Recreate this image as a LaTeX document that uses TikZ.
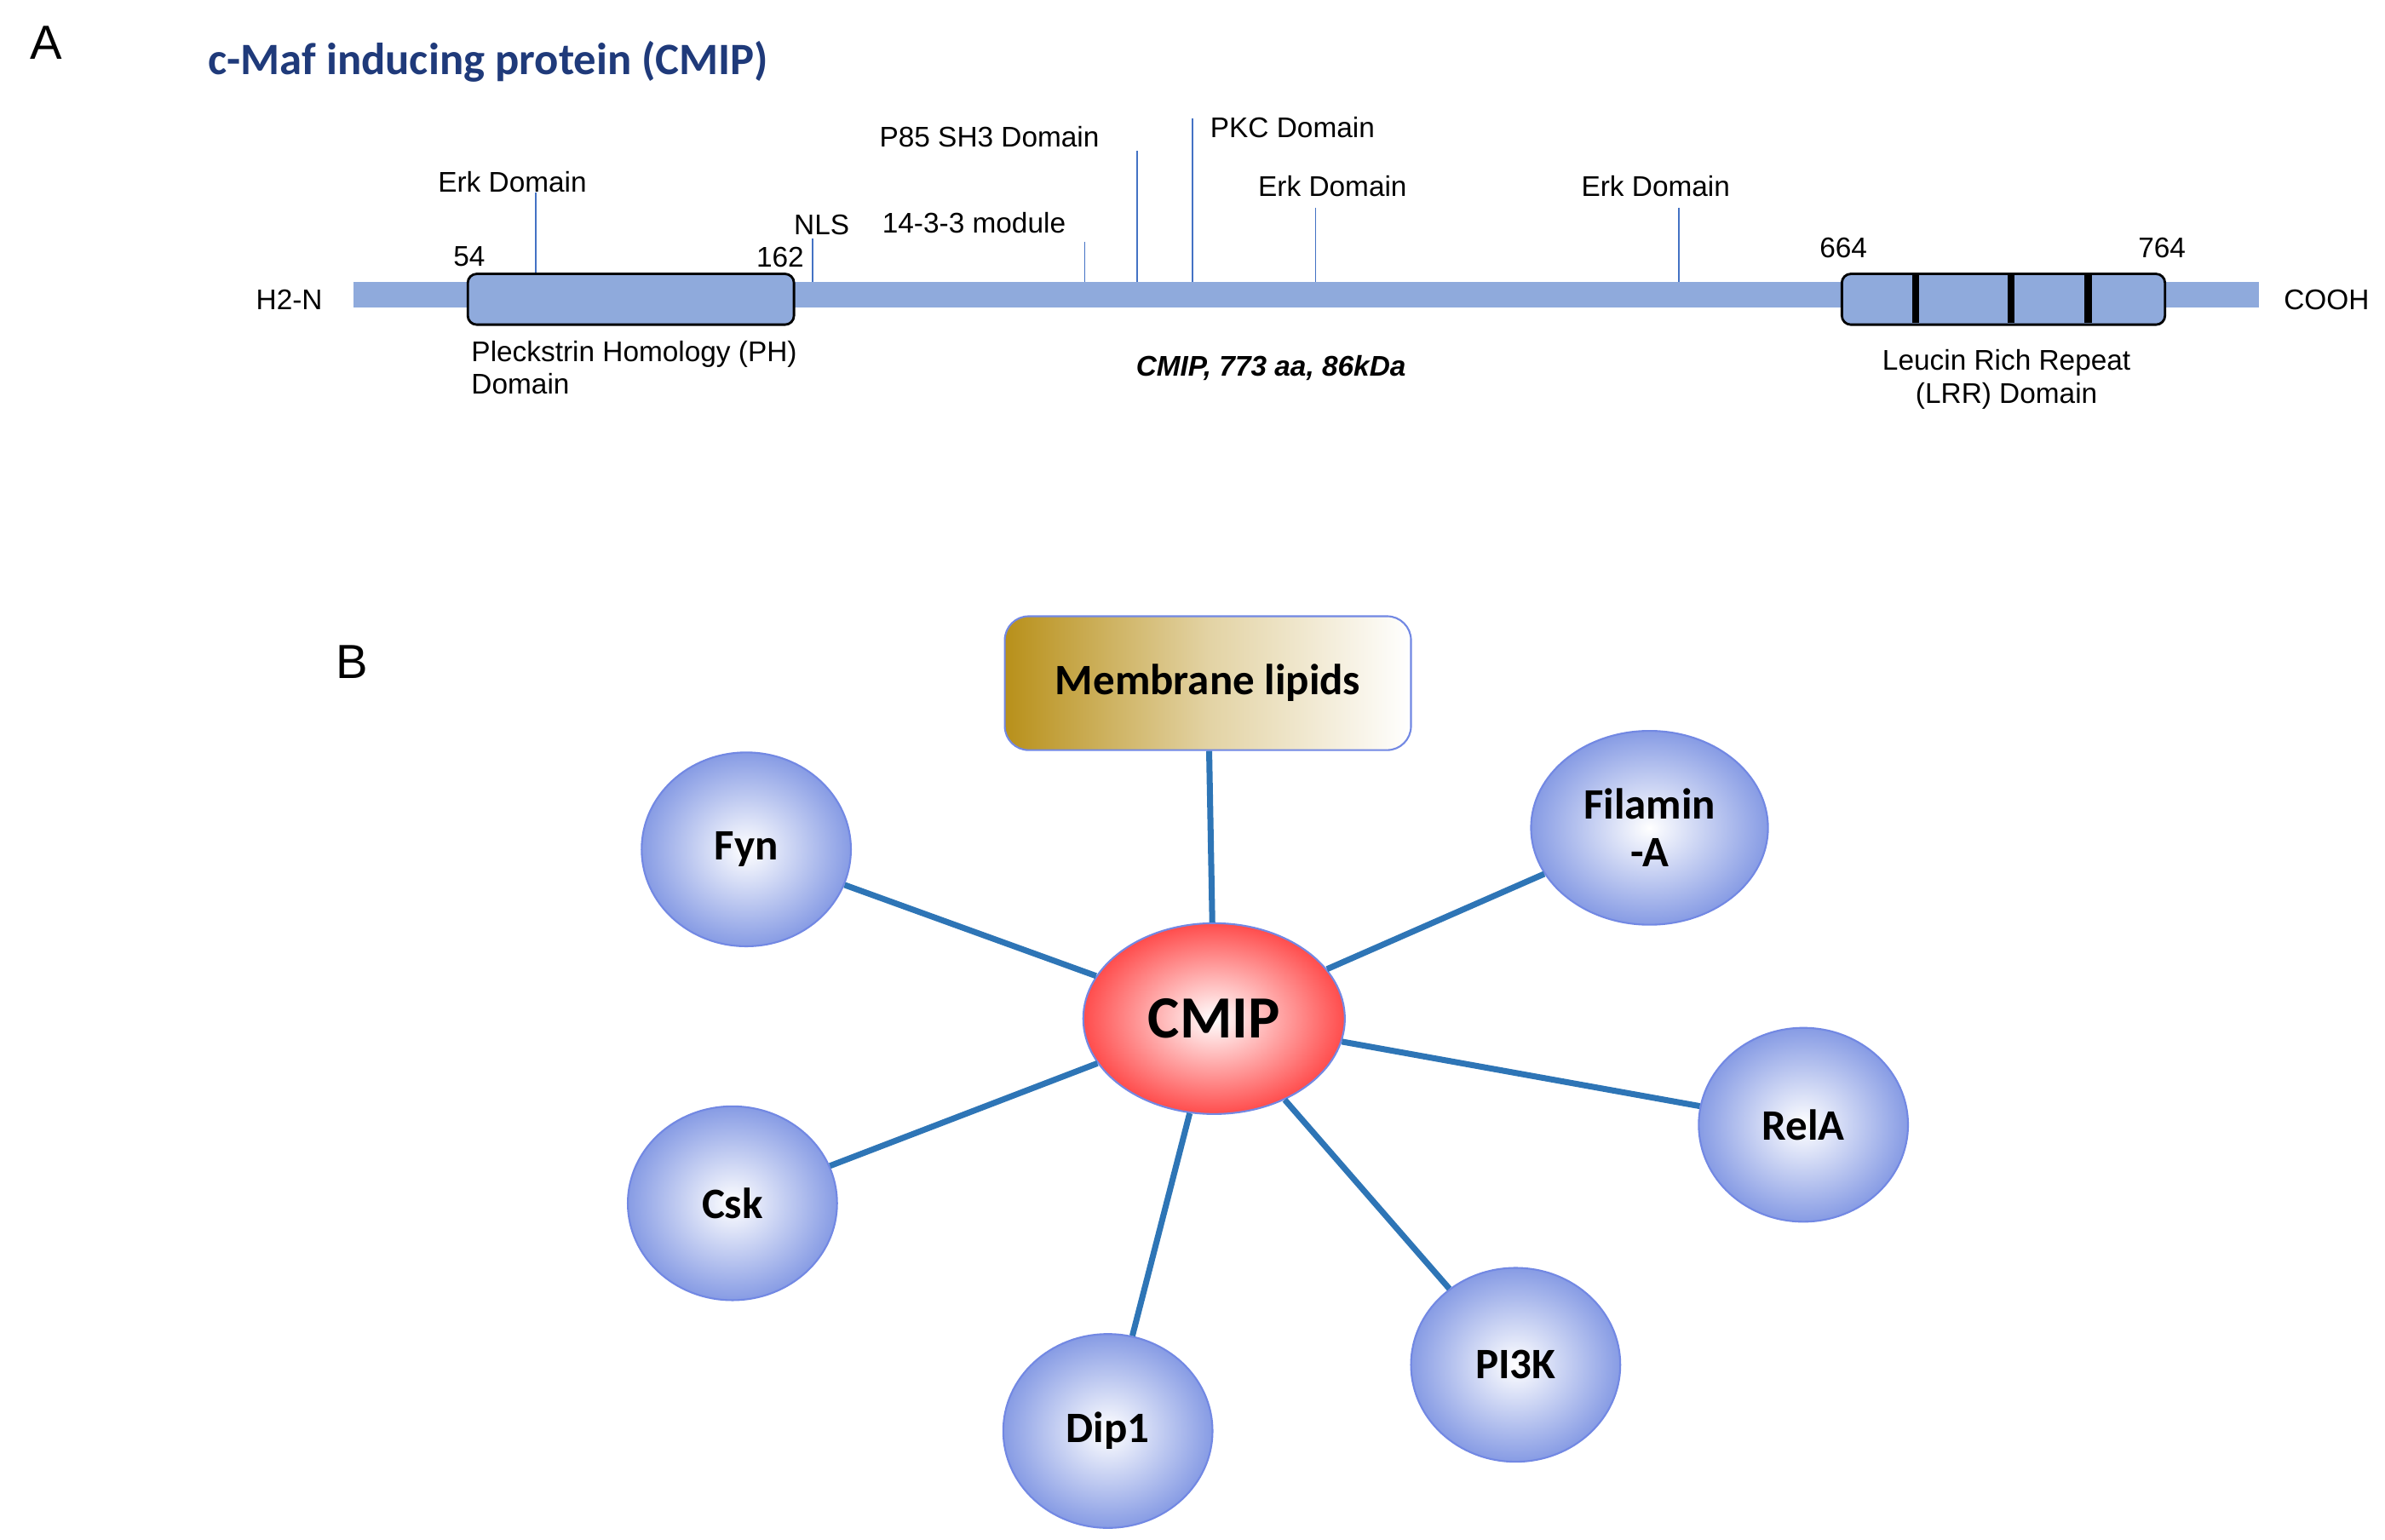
\documentclass[tikz,border=0pt]{standalone}
\usepackage{fontspec}
\usetikzlibrary{shapes.geometric}
\setmainfont{Liberation Sans}
\newfontfamily\carl{Carlito}
\definecolor{barb}{HTML}{8FAADC}
\definecolor{edgeb}{HTML}{2E75B6}
\definecolor{tblue}{HTML}{1F3A7A}
\definecolor{gold}{HTML}{B8901A}
\definecolor{tickb}{HTML}{4472C4}
\begin{document}
\begin{tikzpicture}[x=0.01806cm,y=-0.01806cm,
  lbl/.style={font=\fontsize{9.5}{11}\selectfont,inner sep=0pt},
  tick/.style={draw=tickb,line width=0.5pt},
  dom/.style={draw=black,line width=0.8pt,fill=barb,rounded corners=3pt},
  ball/.style={ellipse,draw=barb!80!blue,line width=0.6pt,inner color=white,outer color=barb!85!blue!90!white,font=\carl\bfseries\fontsize{14.5}{16}\selectfont,align=center},
  link/.style={draw=edgeb,line width=2pt}]
\useasboundingbox (0,0) rectangle (1550,1000.5);
\node[font=\fontsize{16}{18}\selectfont] (A) at (30,28) {A};
\node[anchor=west,font=\carl\bfseries\fontsize{15}{17}\selectfont,text=tblue,inner sep=0pt] (title) at (135,40) {c-Maf inducing protein (CMIP)};
% ticks
\coordinate (t1a) at (348,125); \coordinate (t1b) at (348,180);
\coordinate (t2a) at (528,155); \coordinate (t2b) at (528,186);
\coordinate (t3a) at (705,157); \coordinate (t3b) at (705,186);
\coordinate (t4a) at (739,98);  \coordinate (t4b) at (739,186);
\coordinate (t5a) at (775,77);  \coordinate (t5b) at (775,186);
\coordinate (t6a) at (855,135); \coordinate (t6b) at (855,186);
\coordinate (t7a) at (1091,135);\coordinate (t7b) at (1091,186);
\foreach \i in {1,...,7}{\draw[tick] (t\i a) -- (t\i b);}
\fill[barb] (230,183) rectangle (1468,200);
\draw[dom] (304,178) rectangle (516,211);
\draw[dom] (1197,178) rectangle (1407,211);
\foreach \x in {1245,1307,1357}{\draw[line width=2.5pt] (\x,179) -- (\x,210);}
\node[lbl] (h2n) at (188,195) {H2-N};
\node[lbl] (cooh) at (1512,195) {COOH};
\node[lbl] (n54) at (305,167) {54};
\node[lbl] (n162) at (507,167) {162};
\node[lbl] (n664) at (1198,161) {664};
\node[lbl] (n764) at (1405,161) {764};
\node[lbl] (e1) at (333,118) {Erk Domain};
\node[lbl] (nls) at (534,146) {NLS};
\node[lbl] (m1433) at (633,145) {14-3-3 module};
\node[lbl] (p85) at (643,89) {P85 SH3 Domain};
\node[lbl] (pkc) at (840,83) {PKC Domain};
\node[lbl] (e2) at (866,121) {Erk Domain};
\node[lbl] (e3) at (1076,121) {Erk Domain};
\node[lbl,anchor=north west,align=left] (ph) at (306,221) {Pleckstrin Homology (PH)\\Domain};
\node[lbl,font=\bfseries\itshape\fontsize{9.5}{11}\selectfont] (cmipaa) at (826,239) {CMIP, 773 aa, 86kDa};
\node[lbl,align=center,anchor=north] (lrr) at (1304,227) {Leucin Rich Repeat\\(LRR) Domain};
% B
\node[font=\fontsize{16}{18}\selectfont] (B) at (229,430) {B};
\node[draw=barb!80!blue,line width=0.6pt,rounded corners=8pt,left color=gold,right color=white,middle color=gold!40!white,minimum width=264*0.01806cm,minimum height=87*0.01806cm,font=\carl\bfseries\fontsize{14.5}{16}\selectfont] (ml) at (785,444) {Membrane lipids};
\node[ellipse,draw=barb!80!blue,line width=0.6pt,inner color=white,outer color=red!70!white,minimum width=170*0.01806cm,minimum height=124*0.01806cm,font=\carl\bfseries\fontsize{20}{22}\selectfont] (cmip) at (789,662) {CMIP};
\node[ball,minimum width=136*0.01806cm,minimum height=126*0.01806cm] (fyn) at (485,552) {Fyn};
\node[ball,minimum width=154*0.01806cm,minimum height=126*0.01806cm] (fil) at (1072,538) {Filamin\\-A};
\node[ball,minimum width=136*0.01806cm,minimum height=126*0.01806cm] (rela) at (1172,731) {RelA};
\node[ball,minimum width=136*0.01806cm,minimum height=126*0.01806cm] (csk) at (476,782) {Csk};
\node[ball,minimum width=136*0.01806cm,minimum height=126*0.01806cm] (pi3k) at (985,887) {PI3K};
\node[ball,minimum width=136*0.01806cm,minimum height=126*0.01806cm] (dip) at (720,930) {Dip1};
\draw[link] (ml) -- (cmip);
\draw[link] (fyn) -- (cmip);
\draw[link] (fil) -- (cmip);
\draw[link] (rela) -- (cmip);
\draw[link] (csk) -- (cmip);
\draw[link] (pi3k) -- (cmip);
\draw[link] (dip) -- (cmip);
\end{tikzpicture}
\end{document}
